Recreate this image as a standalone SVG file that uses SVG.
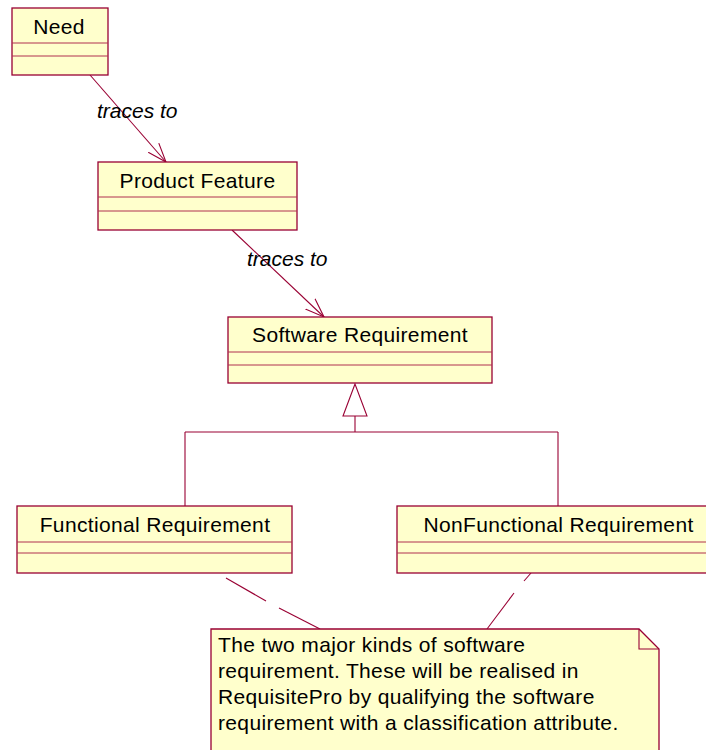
<svg xmlns="http://www.w3.org/2000/svg" width="706" height="750" viewBox="0 0 706 750">
<style>
.box{fill:#FFFFCC;stroke:#990033;stroke-width:1.3}
.div{stroke:#B03050;stroke-width:1}
.t{font-family:"Liberation Sans",Arial,sans-serif;font-size:21px;letter-spacing:0.35px;fill:#000}
.c{text-anchor:middle}
.i{font-style:italic;letter-spacing:0}
.ln{stroke:#990033;stroke-width:1.1;fill:none}
</style>
<defs>
<marker id="open" viewBox="0 0 20 20" refX="19" refY="10" markerWidth="20" markerHeight="20" markerUnits="userSpaceOnUse" orient="auto">
<path d="M0,3 L19,10 L0,17" fill="none" stroke="#990033" stroke-width="1.1"/>
</marker>
</defs>
<rect width="706" height="750" fill="#fff"/>
<g id="connectors">
<line class="ln" x1="90" y1="75" x2="166" y2="162" marker-end="url(#open)"/>
<text class="t i" x="97" y="118">traces to</text>
<line class="ln" x1="232" y1="230" x2="324" y2="317" marker-end="url(#open)"/>
<text class="t i" x="247" y="266">traces to</text>
<polygon points="355,384 343,416 367,416" fill="#fff" stroke="#990033" stroke-width="1.1"/>
<line class="ln" x1="355" y1="416" x2="355" y2="432"/>
<line class="ln" x1="185" y1="432" x2="558" y2="432"/>
<line class="ln" x1="185" y1="432" x2="185" y2="506"/>
<line class="ln" x1="558" y1="432" x2="558" y2="506"/>
<line class="ln" x1="226" y1="578" x2="266" y2="601"/>
<line class="ln" x1="279" y1="608" x2="320" y2="629"/>
<line class="ln" x1="531" y1="573" x2="524" y2="581"/>
<line class="ln" x1="514" y1="593" x2="487" y2="629"/>
</g>
<g id="need">
<rect class="box" x="12" y="8" width="96" height="67"/>
<line class="div" x1="12" y1="43" x2="108" y2="43"/>
<line class="div" x1="12" y1="56" x2="108" y2="56"/>
<text class="t c" x="59" y="34">Need</text>
</g>
<g id="product-feature">
<rect class="box" x="98" y="162" width="199" height="68"/>
<line class="div" x1="98" y1="197" x2="297" y2="197"/>
<line class="div" x1="98" y1="211" x2="297" y2="211"/>
<text class="t c" x="197.5" y="188">Product Feature</text>
</g>
<g id="software-requirement">
<rect class="box" x="228" y="317" width="264" height="66"/>
<line class="div" x1="228" y1="352" x2="492" y2="352"/>
<line class="div" x1="228" y1="365" x2="492" y2="365"/>
<text class="t c" x="360" y="342">Software Requirement</text>
</g>
<g id="functional-requirement">
<rect class="box" x="17" y="506" width="275" height="67"/>
<line class="div" x1="17" y1="542" x2="292" y2="542"/>
<line class="div" x1="17" y1="553" x2="292" y2="553"/>
<text class="t c" x="155" y="532">Functional Requirement</text>
</g>
<g id="nonfunctional-requirement">
<rect class="box" x="397" y="506" width="322" height="67"/>
<line class="div" x1="397" y1="542" x2="719" y2="542"/>
<line class="div" x1="397" y1="553" x2="719" y2="553"/>
<text class="t c" x="558.5" y="532">NonFunctional Requirement</text>
</g>
<g id="note">
<path d="M211,629 L639,629 L659,649 L659,760 L211,760 Z" fill="#FFFFCC" stroke="#990033" stroke-width="1.3"/>
<path d="M639,629 L639,649 L659,649" fill="none" stroke="#990033" stroke-width="1.1"/>
<text class="t" x="218" y="652">The two major kinds of software</text>
<text class="t" x="218" y="678">requirement. These will be realised in</text>
<text class="t" x="218" y="704">RequisitePro by qualifying the software</text>
<text class="t" x="218" y="730">requirement with a classification attribute.</text>
</g>
</svg>
